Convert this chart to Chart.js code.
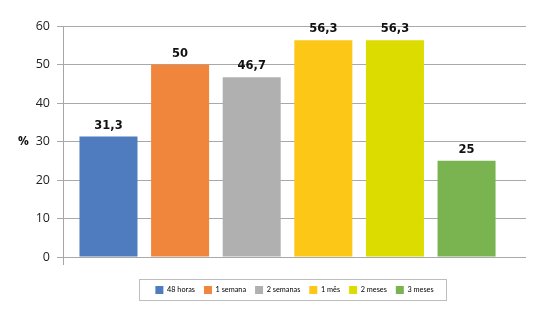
<!DOCTYPE html>
<html>
<head>
<meta charset="utf-8">
<script src="https://cdn.jsdelivr.net/npm/chart.js@4.4.1/dist/chart.umd.min.js"></script>
<style>
    html, body { margin: 0; padding: 0; background: #fff; }
    #wrap { width: 539px; height: 309px; }
</style>
</head>
<body>
<div id="wrap"><canvas id="recoveryChart" width="539" height="309"></canvas></div>
<script>
// Chart data
var categories = ['48 horas', '1 semana', '2 semanas', '1 mês', '2 meses', '3 meses'];
var percentValues = [31.3, 50, 46.7, 56.3, 56.3, 25];
var barColors = ['#4f7bbf', '#f0863c', '#b0b0b0', '#fcc716', '#dcdc00', '#79b451'];
var yTicks = [0, 10, 20, 30, 40, 50, 60];

(function() {
    'use strict';

    var tickFont = "'Open Sans', 'DejaVu Sans', sans-serif";
    var legendFont = "'Liberation Sans Narrow', Lato, sans-serif";

    function formatValue(v) {
        return String(v).replace('.', ',');
    }

    // Value labels above bars, "%" title, legend frame
    var decorPlugin = {
        id: 'decor',
        afterDatasetsDraw: function(chart) {
            var ctx = chart.ctx;
            var meta = chart.getDatasetMeta(0);
            ctx.save();
            ctx.font = "bold 11.5px 'DejaVu Sans', sans-serif";
            ctx.fillStyle = '#111';
            ctx.textAlign = 'center';
            ctx.textBaseline = 'bottom';
            meta.data.forEach(function(bar, i) {
                ctx.fillText(formatValue(percentValues[i]), bar.x, bar.y - 5);
            });
            ctx.restore();
        },
        afterDraw: function(chart) {
            var ctx = chart.ctx;
            var area = chart.chartArea;
            var yScale = chart.scales.y;
            ctx.save();
            // "%" axis title
            ctx.font = "bold 12px 'Open Sans', sans-serif";
            ctx.fillStyle = '#111';
            ctx.textAlign = 'center';
            ctx.textBaseline = 'middle';
            ctx.fillText('%', 23.5, yScale.getPixelForValue(30));
            // small tick below the origin
            ctx.strokeStyle = '#a6a6a6';
            ctx.lineWidth = 1;
            ctx.beginPath();
            ctx.moveTo(Math.round(area.left) + 0.5, area.bottom);
            ctx.lineTo(Math.round(area.left) + 0.5, area.bottom + 8);
            ctx.stroke();
            // legend frame
            var boxes = chart.legend.legendHitBoxes;
            if (boxes && boxes.length) {
                var first = boxes[0];
                var last = boxes[boxes.length - 1];
                var left = Math.round(first.left - 16) + 0.5;
                var right = Math.round(last.left + last.width + 12) + 0.5;
                var top = Math.round(first.top - 7) + 0.5;
                var bottom = Math.round(first.top + first.height + 6) + 0.5;
                ctx.strokeStyle = '#bdbdbd';
                ctx.strokeRect(left, top, right - left, bottom - top);
            }
            ctx.restore();
        }
    };

    function initChart() {
        var el = document.getElementById('recoveryChart');
        if (typeof Chart === 'undefined') {
            console.error('Chart.js is not loaded!');
            return;
        }

        new Chart(el, {
            type: 'bar',
            data: {
                labels: categories,
                datasets: [{
                    label: '%',
                    data: percentValues.map(function(v, i) { return { x: i, y: v }; }),
                    backgroundColor: barColors,
                    borderWidth: 0,
                    barPercentage: 0.81,
                    categoryPercentage: 1
                }]
            },
            options: {
                responsive: false,
                animation: false,
                devicePixelRatio: 1,
                layout: { padding: { top: 26, left: 0, right: 13, bottom: 5 } },
                plugins: {
                    tooltip: { enabled: false },
                    legend: {
                        display: true,
                        position: 'bottom',
                        fullSize: false,
                        labels: {
                            boxWidth: 8,
                            boxHeight: 8,
                            padding: 9,
                            color: '#333',
                            font: { family: legendFont, size: 7.3 },
                            generateLabels: function() {
                                return categories.map(function(name, i) {
                                    return {
                                        text: name,
                                        fillStyle: barColors[i],
                                        strokeStyle: barColors[i],
                                        lineWidth: 0,
                                        hidden: false,
                                        index: i
                                    };
                                });
                            }
                        }
                    }
                },
                scales: {
                    x: {
                        type: 'linear',
                        offset: false,
                        min: -0.635,
                        max: 5.83,
                        afterBuildTicks: function(scale) {
                            scale.ticks = categories.map(function(c, i) { return { value: i }; });
                        },
                        ticks: { display: false },
                        grid: { display: false, offset: false },
                        border: { display: false },
                        afterFit: function(scale) { scale.height = 20; }
                    },
                    y: {
                        min: 0,
                        max: 60,
                        afterBuildTicks: function(scale) {
                            scale.ticks = yTicks.map(function(v) { return { value: v }; });
                        },
                        ticks: {
                            padding: 7,
                            color: '#222',
                            font: { family: tickFont, size: 12.5 }
                        },
                        grid: {
                            color: '#a9a9a9',
                            lineWidth: 1,
                            tickLength: 6
                        },
                        border: { color: '#a6a6a6' },
                        afterFit: function(scale) { scale.width = 63; }
                    }
                }
            },
            plugins: [decorPlugin]
        });
    }

    initChart();
})();
</script>
</body>
</html>
